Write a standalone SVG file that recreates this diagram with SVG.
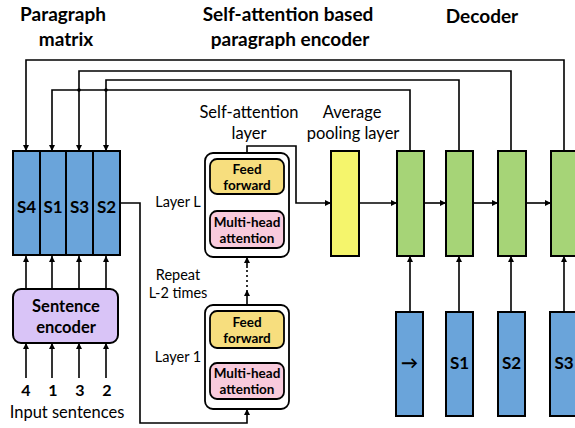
<svg xmlns="http://www.w3.org/2000/svg" width="575" height="428" viewBox="0 0 575 428">
<defs>
<marker id="ah" viewBox="0 0 10 10" refX="10" refY="5" markerWidth="6" markerHeight="6" markerUnits="userSpaceOnUse" orient="auto">
<path d="M0,0 L10,5 L0,10 z" fill="#000"/>
</marker>
<style>
.t{font-family:Lato,"Noto Sans",sans-serif;fill:#000}
.title{font-size:19px;font-weight:bold}
.lbl{font-size:16.5px}
.sm{font-size:14.5px}
.bx{font-size:13.5px;font-weight:bold}
.sl{font-size:17px;font-weight:bold}
.c{fill:none;stroke:#000;stroke-width:1.6}
.a{marker-end:url(#ah)}
.blue{fill:#6aa4da;stroke:#000;stroke-width:2}
.green{fill:#a6d477;stroke:#000;stroke-width:2}
.yel{fill:#f5f56c;stroke:#000;stroke-width:2}
</style>
</defs>
<rect width="575" height="428" fill="#fff"/>

<g id="titles">
<text class="t title" x="63" y="21" text-anchor="middle">Paragraph</text>
<text class="t title" x="66" y="46" text-anchor="middle">matrix</text>
<text class="t title" x="288" y="21" text-anchor="middle">Self-attention based</text>
<text class="t title" x="290" y="46" text-anchor="middle">paragraph encoder</text>
<text class="t title" x="482" y="23" text-anchor="middle">Decoder</text>
<text class="t lbl" x="249" y="118" text-anchor="middle">Self-attention</text>
<text class="t lbl" x="249" y="139" text-anchor="middle">layer</text>
<text class="t lbl" x="352" y="118" text-anchor="middle">Average</text>
<text class="t lbl" x="353" y="139" text-anchor="middle">pooling layer</text>
<text class="t sm" x="178" y="207" text-anchor="middle">Layer L</text>
<text class="t sm" x="178" y="280" text-anchor="middle">Repeat</text>
<text class="t sm" x="178" y="298" text-anchor="middle">L-2 times</text>
<text class="t sm" x="178" y="362" text-anchor="middle">Layer 1</text>
<text class="t lbl" x="67" y="418" text-anchor="middle">Input sentences</text>
</g>

<g id="connectors">
<path class="c a" d="M564,151 V60 H26 V151"/>
<path class="c a" d="M511,151 V71 H79 V151"/>
<path class="c a" d="M459,151 V80 H106 V151"/>
<path class="c a" d="M410,151 V90 H52 V151"/>
<circle cx="79" cy="90" r="1.8" fill="#000"/>
<circle cx="106" cy="90" r="1.8" fill="#000"/>
<path class="c a" d="M26,289 V256"/>
<path class="c a" d="M52,289 V256"/>
<path class="c a" d="M79,289 V256"/>
<path class="c a" d="M106,289 V256"/>
<path class="c a" d="M26,378 V343"/>
<path class="c a" d="M52,378 V343"/>
<path class="c a" d="M79,378 V343"/>
<path class="c a" d="M106,378 V343"/>
<path class="c a" d="M120,203 H140 V423 H247 V409"/>
<path class="c a" d="M247,363 V348"/>
<path class="c a" d="M247,305 V290"/>
<path class="c" d="M247,287 V268" stroke-dasharray="2,3"/>
<path class="c a" d="M247,268 V257"/>
<path class="c a" d="M247,211 V194"/>
<path class="c a" d="M247,159 V146 H296 V203 H331"/>
<path class="c a" d="M359,203 H397"/>
<path class="c a" d="M424,203 H446"/>
<path class="c a" d="M473,203 H498"/>
<path class="c a" d="M526,203 H551"/>
<path class="c a" d="M410,312 V256"/>
<path class="c a" d="M459,312 V256"/>
<path class="c a" d="M511,312 V256"/>
<path class="c a" d="M564,312 V256"/>
</g>

<g id="paragraph-matrix">
<rect class="blue" x="13" y="151" width="27" height="104"/>
<rect class="blue" x="40" y="151" width="26" height="104"/>
<rect class="blue" x="66" y="151" width="27" height="104"/>
<rect class="blue" x="93" y="151" width="27" height="104"/>
<text class="t sl" x="26.5" y="213" text-anchor="middle">S4</text>
<text class="t sl" x="53" y="213" text-anchor="middle">S1</text>
<text class="t sl" x="79.5" y="213" text-anchor="middle">S3</text>
<text class="t sl" x="106.5" y="213" text-anchor="middle">S2</text>
</g>

<g id="sentence-encoder">
<rect x="13" y="289" width="105" height="54" rx="8" fill="#d9c4f7" stroke="#000" stroke-width="2"/>
<text class="t" x="66" y="312" text-anchor="middle" font-size="16.5" font-weight="bold">Sentence</text>
<text class="t" x="66" y="333" text-anchor="middle" font-size="16.5" font-weight="bold">encoder</text>
</g>

<g id="inputs">
<text class="t" x="26" y="396" text-anchor="middle" font-size="16" font-weight="bold">4</text>
<text class="t" x="53" y="396" text-anchor="middle" font-size="16" font-weight="bold">1</text>
<text class="t" x="80" y="396" text-anchor="middle" font-size="16" font-weight="bold">3</text>
<text class="t" x="107" y="396" text-anchor="middle" font-size="16" font-weight="bold">2</text>
</g>

<g id="layer-L">
<rect x="205" y="153" width="84" height="104" rx="8" fill="#fff" stroke="#000" stroke-width="1.8"/>
<rect x="210" y="159" width="74" height="35" rx="7" fill="#f7de7e" stroke="#000" stroke-width="1.8"/>
<text class="t bx" x="247" y="174" text-anchor="middle">Feed</text>
<text class="t bx" x="247" y="190" text-anchor="middle">forward</text>
<rect x="210" y="211" width="74" height="37" rx="7" fill="#f8cadc" stroke="#000" stroke-width="1.8"/>
<text class="t bx" x="247" y="227" text-anchor="middle">Multi-head</text>
<text class="t bx" x="247" y="243" text-anchor="middle">attention</text>
</g>

<g id="layer-1">
<rect x="205" y="305" width="84" height="104" rx="8" fill="#fff" stroke="#000" stroke-width="1.8"/>
<rect x="210" y="311" width="74" height="37" rx="7" fill="#f7de7e" stroke="#000" stroke-width="1.8"/>
<text class="t bx" x="247" y="327" text-anchor="middle">Feed</text>
<text class="t bx" x="247" y="343" text-anchor="middle">forward</text>
<rect x="210" y="363" width="74" height="36" rx="7" fill="#f8cadc" stroke="#000" stroke-width="1.8"/>
<text class="t bx" x="247" y="378" text-anchor="middle">Multi-head</text>
<text class="t bx" x="247" y="394" text-anchor="middle">attention</text>
</g>

<g id="average-pooling">
<rect class="yel" x="331" y="151" width="28" height="105"/>
</g>

<g id="decoder">
<rect class="green" x="397" y="151" width="27" height="105"/>
<rect class="green" x="446" y="151" width="27" height="105"/>
<rect class="green" x="498" y="151" width="28" height="105"/>
<rect class="green" x="551" y="151" width="28" height="105"/>
<rect class="blue" x="396" y="312" width="27" height="104"/>
<rect class="blue" x="446" y="312" width="27" height="104"/>
<rect class="blue" x="498" y="312" width="27" height="104"/>
<rect class="blue" x="550" y="312" width="28" height="104"/>
<text class="t sl" x="409.5" y="369" text-anchor="middle">→</text>
<text class="t sl" x="459.5" y="369" text-anchor="middle">S1</text>
<text class="t sl" x="511.5" y="369" text-anchor="middle">S2</text>
<text class="t sl" x="564" y="369" text-anchor="middle">S3</text>
</g>
</svg>
